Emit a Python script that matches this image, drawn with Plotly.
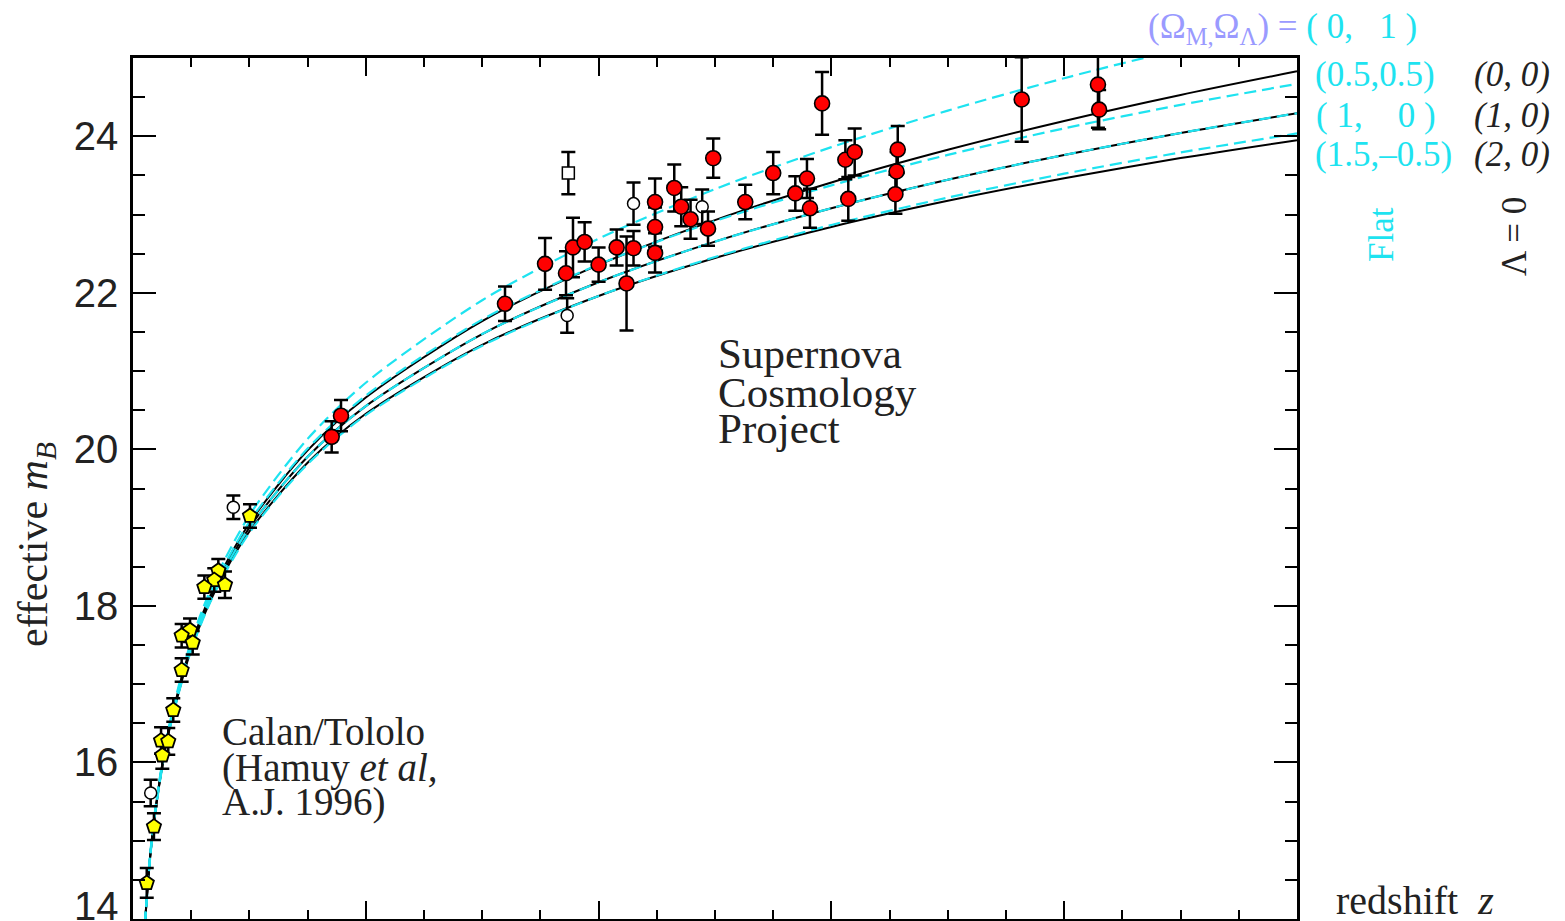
import plotly.graph_objects as go

# ---------------- data ----------------
# Supernova Cosmology Project (red filled)
scp_z = [0.3196, 0.354, 0.372, 0.378, 0.388, 0.400, 0.4155, 0.430, 0.424, 0.4485, 0.4485, 0.4485,
         0.465, 0.471, 0.479, 0.494, 0.4985, 0.526, 0.550, 0.569, 0.592, 0.579, 0.5816, 0.612,
         0.620, 0.6145, 0.657, 0.656, 0.655, 0.7635, 0.829, 0.830, 0.1787, 0.1707]
scp_m = [21.86, 22.37, 22.25, 22.58, 22.65, 22.36, 22.58, 22.57, 22.12, 23.16, 22.84, 22.51,
         23.34, 23.10, 22.94, 22.82, 23.72, 23.16, 23.53, 23.27, 24.42, 23.46, 23.08, 23.70,
         23.80, 23.20, 23.83, 23.55, 23.26, 24.47, 24.66, 24.34, 20.43, 20.16]
scp_err = [0.22, 0.33, 0.28, 0.38, 0.25, 0.22, 0.23, 0.22, 0.60, 0.30, 0.25, 0.25,
           0.30, 0.25, 0.25, 0.22, 0.25, 0.22, 0.27, 0.22, 0.40, 0.25, 0.25, 0.25,
           0.30, 0.28, 0.30, 0.25, 0.25, 0.54, 0.55, 0.25, 0.20, 0.20]

# Calan/Tololo (yellow filled)
ct_z = [0.1005, 0.0733, 0.0698, 0.0613, 0.079, 0.049, 0.0418, 0.0513, 0.0418, 0.0346,
        0.0241, 0.0303, 0.0252, 0.018, 0.0118]
ct_m = [19.15, 18.45, 18.33, 18.24, 18.27, 17.69, 17.62, 17.53, 17.18, 16.67,
        16.28, 16.27, 16.09, 15.18, 14.46]
ct_err = [0.15, 0.15, 0.15, 0.15, 0.17, 0.15, 0.15, 0.15, 0.15, 0.15,
          0.17, 0.17, 0.17, 0.17, 0.19]

# open circles
oc_z = [0.0862, 0.0152, 0.373, 0.430, 0.489]
oc_m = [19.26, 15.61, 21.71, 23.14, 23.10]
oc_err = [0.15, 0.17, 0.22, 0.27, 0.22]

# open square
os_z = [0.374]
os_m = [23.53]
os_err = [0.27]

# model curves
curve_z = [0.008, 0.015, 0.02, 0.03, 0.05, 0.07, 0.1, 0.15, 0.2, 0.3, 0.4, 0.5, 0.6, 0.7, 0.8, 0.9, 1.0]
m_0_1 = [13.483, 14.863, 15.498, 16.400, 17.551, 18.322, 19.157, 20.134, 20.851, 21.905, 22.691,
         23.325, 23.861, 24.328, 24.742, 25.115, 25.455]
m_0_0 = [13.474, 14.846, 15.477, 16.368, 17.499, 18.250, 19.056, 19.987, 20.662, 21.639, 22.356,
         22.929, 23.410, 23.827, 24.196, 24.528, 24.830]
m_05_05 = [13.476, 14.851, 15.482, 16.376, 17.510, 18.265, 19.075, 20.010, 20.686, 21.658, 22.362,
           22.916, 23.373, 23.762, 24.101, 24.401, 24.670]
m_1_0 = [13.470, 14.838, 15.466, 16.352, 17.471, 18.211, 19.001, 19.905, 20.552, 21.473, 22.135,
         22.654, 23.081, 23.445, 23.761, 24.042, 24.294]
m_15_m05 = [13.463, 14.826, 15.450, 16.328, 17.434, 18.162, 18.934, 19.813, 20.438, 21.325, 21.960,
            22.457, 22.867, 23.217, 23.522, 23.793, 24.036]
m_2_0 = [13.466, 14.830, 15.455, 16.336, 17.445, 18.175, 18.950, 19.830, 20.455, 21.336, 21.960,
         22.445, 22.841, 23.175, 23.465, 23.721, 23.950]

y_ticks = [14, 16, 18, 20, 22, 24]

# ---------------- styles ----------------
CYAN = "#1ee3f0"
LAV = "#9a9aff"
DARK = "#222222"
SERIF = "Liberation Serif"
SANS = "Liberation Sans"

fig = go.Figure()

# Lambda = 0 curves (black solid)
for ys in (m_0_0, m_1_0, m_2_0):
    fig.add_trace(go.Scatter(x=curve_z, y=ys, mode="lines",
                             line=dict(color="black", width=2, shape="spline", smoothing=0.8),
                             hoverinfo="skip", showlegend=False))
# flat curves (cyan dashed)
for ys in (m_0_1, m_05_05, m_1_0, m_15_m05):
    fig.add_trace(go.Scatter(x=curve_z, y=ys, mode="lines",
                             line=dict(color=CYAN, width=2.2, dash="12px,6px", shape="spline", smoothing=0.8),
                             hoverinfo="skip", showlegend=False))


def err(arr):
    return dict(type="data", array=arr, visible=True, color="black", thickness=2.5, width=7)


fig.add_trace(go.Scatter(x=oc_z, y=oc_m, mode="markers", error_y=err(oc_err),
                         marker=dict(symbol="circle", size=12, color="white",
                                     line=dict(color="black", width=1.5)), showlegend=False))
fig.add_trace(go.Scatter(x=os_z, y=os_m, mode="markers", error_y=err(os_err),
                         marker=dict(symbol="square", size=12, color="white",
                                     line=dict(color="black", width=1.5)), showlegend=False))
fig.add_trace(go.Scatter(x=ct_z, y=ct_m, mode="markers", error_y=err(ct_err),
                         marker=dict(symbol="pentagon", size=15, color="#ffff00",
                                     line=dict(color="black", width=1.8)), showlegend=False))
fig.add_trace(go.Scatter(x=scp_z, y=scp_m, mode="markers", error_y=err(scp_err),
                         marker=dict(symbol="circle", size=15, color="#ff0000",
                                     line=dict(color="black", width=1.6)), showlegend=False))

# ---------------- annotations ----------------
# plot area occupies page pixels x 133..1297, y 58..919
def px(xp):
    return (xp - 133) / 1164.0


def py(yp):
    return (919 - yp) / 861.0


ann = []
for txt, yv in (("Supernova", 21.22), ("Cosmology", 20.73), ("Project", 20.27)):
    ann.append(dict(x=0.5005, y=yv, xref="x", yref="y", text=txt, showarrow=False,
                    xanchor="left", yanchor="middle", font=dict(family=SERIF, size=43, color=DARK)))
for txt, yv in (("Calan/Tololo", 16.40), ("(Hamuy <i>et al,</i>", 15.93), ("A.J. 1996)", 15.49)):
    ann.append(dict(x=0.0750, y=yv, xref="x", yref="y", text=txt, showarrow=False,
                    xanchor="left", yanchor="middle", font=dict(family=SERIF, size=39, color=DARK)))

NB = "\u00a0"
right_labels = [
    ("(Ω<sub>M,</sub>Ω<sub>Λ</sub>) = " + f"<span style='color:{CYAN}'>( 0,{NB*3}1 )</span>", 1146, 28, LAV),
    ("(0.5,0.5)", 1313, 75, CYAN),
    (f"( 1,{NB*4}0 )", 1314, 115, CYAN),
    ("(1.5,–0.5)", 1313, 155, CYAN),
    ("<i>(0, 0)</i>", 1472, 75, DARK),
    ("<i>(1, 0)</i>", 1472, 115, DARK),
    ("<i>(2, 0)</i>", 1472, 155, DARK),
]
for txt, xx, yy, col in right_labels:
    ann.append(dict(x=px(xx), y=py(yy), xref="paper", yref="paper", text=txt, showarrow=False,
                    xanchor="left", yanchor="middle", font=dict(family=SERIF, size=35, color=col)))

ann.append(dict(x=px(1382), y=py(235), xref="paper", yref="paper", text="Flat", textangle=-90,
                showarrow=False, xanchor="center", yanchor="middle",
                font=dict(family=SERIF, size=35, color=CYAN)))
ann.append(dict(x=px(1515), y=py(237), xref="paper", yref="paper", text="Λ = 0", textangle=-90,
                showarrow=False, xanchor="center", yanchor="middle",
                font=dict(family=SERIF, size=35, color=DARK)))
ann.append(dict(x=px(1334), y=py(900), xref="paper", yref="paper", text=f"redshift{NB*2}<i>z</i>",
                showarrow=False, xanchor="left", yanchor="middle",
                font=dict(family=SERIF, size=40, color=DARK)))
ann.append(dict(x=px(36), y=py(545), xref="paper", yref="paper",
                text="effective <i>m<sub>B</sub></i>", textangle=-90,
                showarrow=False, xanchor="center", yanchor="middle",
                font=dict(family=SERIF, size=42, color=DARK)))
# the lowest tick label sits just above the bottom edge of the picture
ann.append(dict(x=px(121), y=py(906), xref="paper", yref="paper", text=str(y_ticks[0]),
                showarrow=False, xanchor="right", yanchor="middle",
                font=dict(family=SANS, size=40, color=DARK)))

# the page body adds an 8px offset, margins compensate so the plot area sits at 133..1297 / 58..919
fig.update_layout(
    width=1565, height=921,
    margin=dict(l=125, r=276, t=50, b=10, autoexpand=False),
    paper_bgcolor="white", plot_bgcolor="white",
    showlegend=False,
    annotations=ann,
    xaxis=dict(range=[0, 1], showline=True, linewidth=2.5, linecolor="black", mirror="ticks",
               ticks="inside", ticklen=18, tickwidth=2, tickcolor="black", tick0=0, dtick=0.2,
               showticklabels=False, showgrid=False, zeroline=False,
               minor=dict(ticks="inside", ticklen=9, tickwidth=2, tickcolor="black", dtick=0.05,
                          showgrid=False)),
    yaxis=dict(range=[14, 25], showline=True, linewidth=2.5, linecolor="black", mirror="ticks",
               ticks="inside", ticklen=23, tickwidth=2, tickcolor="black",
               tickvals=y_ticks, ticktext=[""] + [str(v) for v in y_ticks[1:]],
               tickfont=dict(family=SANS, size=40, color=DARK), ticklabelstandoff=4,
               showgrid=False, zeroline=False,
               minor=dict(ticks="inside", ticklen=12, tickwidth=2, tickcolor="black", dtick=0.5,
                          showgrid=False)),
)

fig.write_html("out.html")
